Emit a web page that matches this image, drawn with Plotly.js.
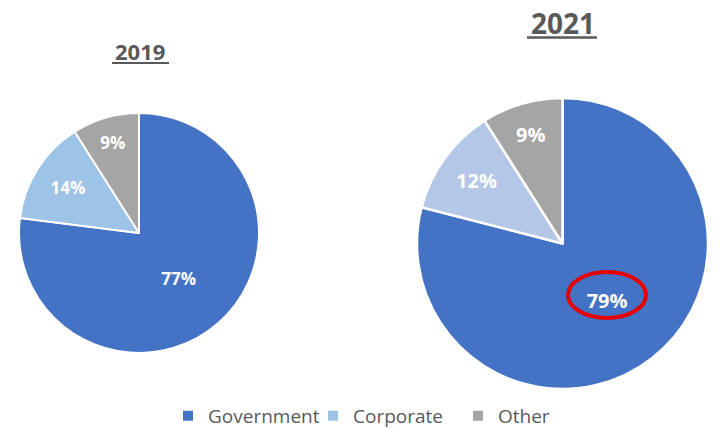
<!DOCTYPE html>
<html><head><meta charset="utf-8">
<script src="https://cdn.plot.ly/plotly-3.0.1.min.js"></script>
<style>html,body{margin:0;padding:0;background:#fff}#chart{width:725px;height:429px}</style>
</head><body><div id="chart"></div>
<script>
const categories = ["Government", "Corporate", "Other"];
const values2019 = [77, 14, 9];
const values2021 = [79, 12, 9];
const colors2019 = ["#4472C4", "#9DC3E6", "#A5A5A5"];
const colors2021 = ["#4472C4", "#B4C7E7", "#A5A5A5"];
const titles = ["2019", "2021"];

const W = 725, H = 429;
const common = {
  type: "pie", labels: categories, sort: false, direction: "clockwise", rotation: 0,
  texttemplate: "%{value}%", textposition: "inside", insidetextorientation: "horizontal",
  hoverinfo: "label+percent"
};
const data = [
  Object.assign({}, common, {
    values: values2019, name: titles[0],
    marker: {colors: colors2019, line: {color: "#ffffff", width: 2}},
    textfont: {family: "Open Sans", size: 17, color: "#ffffff", weight: "bold"},
    domain: {x: [19/W, 259/W], y: [1-353/H, 1-113/H]}
  }),
  Object.assign({}, common, {
    values: values2021, name: titles[1],
    marker: {colors: colors2021, line: {color: "#ffffff", width: 2.5}},
    textfont: {family: "Open Sans", size: 20, color: "#ffffff", weight: "bold"},
    domain: {x: [417/W, 708/W], y: [1-389/H, 1-98/H]}
  })
];
const layout = {
  width: W, height: H, margin: {l: 0, r: 0, t: 0, b: 0, autoexpand: false},
  paper_bgcolor: "#ffffff", showlegend: true,
  legend: {orientation: "h", x: 168/W, xanchor: "left", y: 1-416/H, yanchor: "middle",
    entrywidth: 100, entrywidthmode: "pixels",
    font: {family: "Open Sans", size: 19, color: "#595959"}, itemwidth: 30, traceorder: "normal"},
  annotations: [
    {text: "<b>" + titles[0] + "</b>", xref: "paper", yref: "paper", x: 140/W, y: 1-51/H, showarrow: false,
     font: {family: "Open Sans", size: 22, color: "#595959"}, xanchor: "center", yanchor: "middle"},
    {text: "<b>" + titles[1] + "</b>", xref: "paper", yref: "paper", x: 563/W, y: 1-23/H, showarrow: false,
     font: {family: "Open Sans", size: 28, color: "#595959"}, xanchor: "center", yanchor: "middle"}
  ],
  shapes: [
    {type: "line", xref: "paper", yref: "paper", x0: 112/W, x1: 169/W, y0: 1-63/H, y1: 1-63/H, line: {color: "#595959", width: 2}},
    {type: "line", xref: "paper", yref: "paper", x0: 527/W, x1: 597/W, y0: 1-37.5/H, y1: 1-37.5/H, line: {color: "#595959", width: 2.5}},
    {type: "circle", xref: "paper", yref: "paper", x0: 568/W, x1: 646/W, y0: 1-318/H, y1: 1-272/H, line: {color: "#E60000", width: 4}}
  ]
};
Plotly.newPlot("chart", data, layout, {displayModeBar: false, staticPlot: true});
</script></body></html>
